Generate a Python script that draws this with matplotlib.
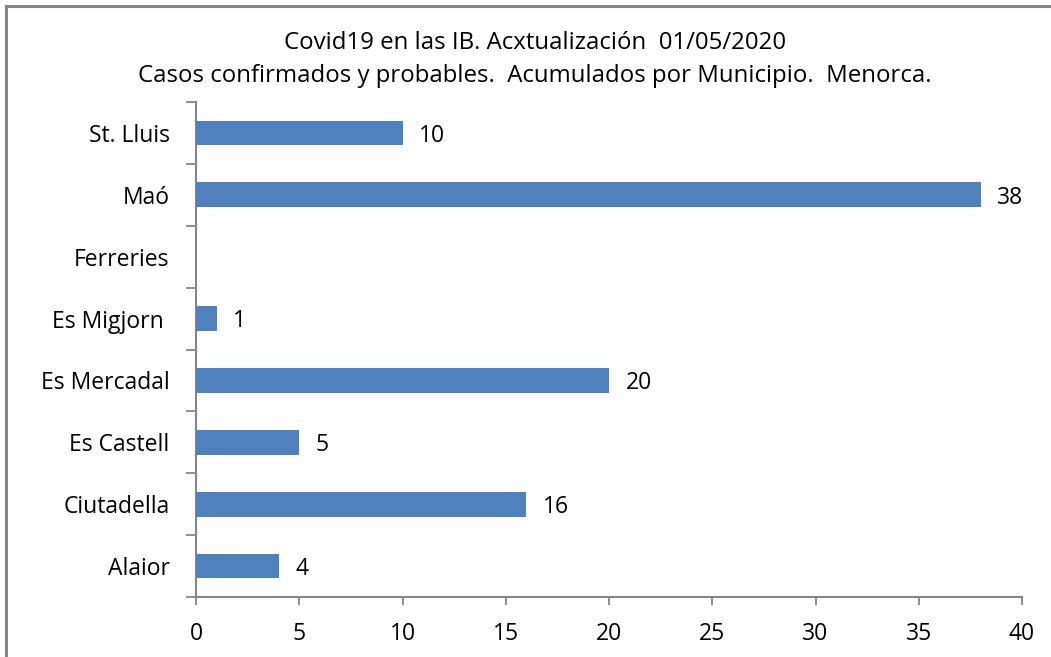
import matplotlib
matplotlib.use("Agg")
import matplotlib.pyplot as plt
from matplotlib.patches import Rectangle
import numpy as np

categories = ["Alaior", "Ciutadella", "Es Castell", "Es Mercadal", "Es Migjorn ", "Ferreries", "Maó", "St. Lluis"]
values = [4, 16, 5, 20, 1, None, 38, 10]
xticks = [0, 5, 10, 15, 20, 25, 30, 35, 40]
title_lines = ["Covid19 en las IB. Acxtualización  01/05/2020",
               "Casos confirmados y probables.  Acumulados por Municipio.  Menorca."]

plt.rcParams['font.family'] = ['Open Sans', 'DejaVu Sans']
FS = 16.5
TFS = 17.3
GRAY = "#868686"
BLUE = "#4F81BD"

fig = plt.figure(figsize=(10.51, 6.57), dpi=100)
fig.patches.append(Rectangle((6/1051, -0.1), 1.2, 1 - 6/657 + 0.1, transform=fig.transFigure,
                             fill=False, edgecolor=GRAY, linewidth=2.2))
ax = fig.add_axes([196/1051, 1 - 597/657, (1022-196)/1051, (597-102)/657])

y = np.arange(len(categories))
vals = [0 if v is None else v for v in values]
ax.barh(y, vals, height=0.4, color=BLUE, edgecolor="none", linewidth=0, zorder=3)
for yi, v in zip(y, values):
    if v is None:
        continue
    ax.annotate(str(v), (v, yi), xytext=(12, -2), textcoords="offset points",
                ha="left", va="center", fontsize=FS, color="black")

ax.set_xlim(0, 40)
ax.set_ylim(-0.5, len(categories) - 0.5)
ax.set_xticks(xticks)
ax.set_xticklabels([str(t) for t in xticks], fontsize=FS)
ax.set_yticks(y)
ax.set_yticklabels(categories, fontsize=FS)
ax.tick_params(axis='y', length=0, pad=19)
ax.tick_params(axis='x', length=6, width=1.3, color=GRAY, pad=12, direction='out')
ax.set_yticks(np.arange(-0.5, len(categories), 1.0), minor=True)
ax.tick_params(axis='y', which='minor', length=7, width=1.3, color=GRAY, direction='out')
for s in ["top", "right"]:
    ax.spines[s].set_visible(False)
for s in ["left", "bottom"]:
    ax.spines[s].set_color(GRAY)
    ax.spines[s].set_linewidth(1.5)

fig.text(535/1051, 1 - 43/657, title_lines[0], ha="center", va="center", fontsize=TFS)
fig.text(535/1051, 1 - 76/657, title_lines[1], ha="center", va="center", fontsize=TFS)

fig.savefig("out.png", dpi=100)
